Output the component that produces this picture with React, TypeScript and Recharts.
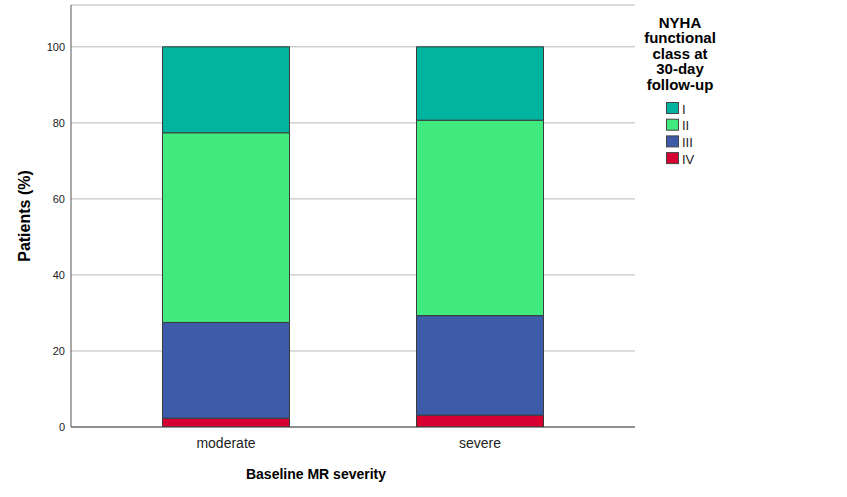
import React from 'react';
import { BarChart, Bar, XAxis, YAxis, CartesianGrid, Legend, Label } from 'recharts';

const categories = ['moderate', 'severe'];
const classI = [22.6, 19.3];
const classII = [49.9, 51.4];
const classIII = [25.2, 26.2];
const classIV = [2.3, 3.1];
const yTicks = [0, 20, 40, 60, 80, 100];
const seriesNames = ['I', 'II', 'III', 'IV'];
const seriesColors = ['#02b3a0', '#40ea7c', '#3e5ba9', '#d70032'];
const legendTitle = ['NYHA', 'functional', 'class at', '30-day', 'follow-up'];
const xTitle = 'Baseline MR severity';
const yTitle = 'Patients (%)';

const data = categories.map((c, i) => ({
  category: c,
  I: classI[i],
  II: classII[i],
  III: classIII[i],
  IV: classIV[i],
}));

const FONT = '"Liberation Sans", Arial, sans-serif';

const LegendContent = () => (
  <svg width={120} height={175} style={{ display: 'block' }}>
    {legendTitle.map((t, i) => (
      <text
        key={t}
        x={50}
        y={28 + i * 15.4}
        textAnchor="middle"
        fontFamily={FONT}
        fontWeight="bold"
        fontSize={15}
        fill="#000"
      >
        {t}
      </text>
    ))}
    {seriesNames.map((n, i) => (
      <g key={n}>
        <rect
          x={36.5}
          y={102.5 + i * 16.7}
          width={12}
          height={11}
          fill={seriesColors[i]}
          stroke="#444"
          strokeWidth={1}
        />
        <text x={52} y={113.5 + i * 16.7} fontFamily={FONT} fontSize={13} fill="#222">
          {n}
        </text>
      </g>
    ))}
  </svg>
);

export default function App() {
  const stackOrder = [3, 2, 1, 0];
  return (
    <div style={{ position: 'fixed', left: 0, top: 0, width: 847, height: 497, background: '#fff' }}>
      <BarChart
        width={847}
        height={497}
        data={data}
        margin={{ top: 5, right: 212, bottom: 0, left: 0 }}
        barCategoryGap="25%"
      >
        <CartesianGrid vertical={false} stroke="#b9b9b9" strokeWidth={1} />
        <XAxis
          dataKey="category"
          height={70}
          padding={{ left: 28, right: 28 }}
          axisLine={{ stroke: '#444', strokeWidth: 1 }}
          tickLine={false}
          tickSize={0}
          tickMargin={11}
          tick={{ fontSize: 14, fill: '#222', fontFamily: FONT }}
        >
          <Label
            content={() => (
              <text x={316} y={479} textAnchor="middle" fontFamily={FONT} fontWeight="bold" fontSize={14} fill="#000">
                {xTitle}
              </text>
            )}
          />
        </XAxis>
        <YAxis
          width={71}
          domain={[0, 111]}
          ticks={yTicks}
          allowDataOverflow
          axisLine={{ stroke: '#555', strokeWidth: 1 }}
          tickLine={false}
          tickSize={4}
          tickMargin={2}
          tick={{ fontSize: 11, fill: '#222', fontFamily: FONT }}
        >
          <Label
            content={() => (
              <text
                x={30}
                y={216}
                transform="rotate(-90 30 216)"
                textAnchor="middle"
                fontFamily={FONT}
                fontWeight="bold"
                fontSize={16}
                fill="#000"
              >
                {yTitle}
              </text>
            )}
          />
        </YAxis>
        <Legend
          layout="horizontal"
          verticalAlign="middle"
          align="center"
          content={LegendContent}
          wrapperStyle={{ left: 630, top: 0, width: 120, height: 175 }}
        />
        {stackOrder.map((idx) => (
          <Bar
            key={seriesNames[idx]}
            dataKey={seriesNames[idx]}
            stackId="a"
            fill={seriesColors[idx]}
            stroke="#3a3a3a"
            strokeWidth={1}
            isAnimationActive={false}
          />
        ))}
      </BarChart>
    </div>
  );
}
